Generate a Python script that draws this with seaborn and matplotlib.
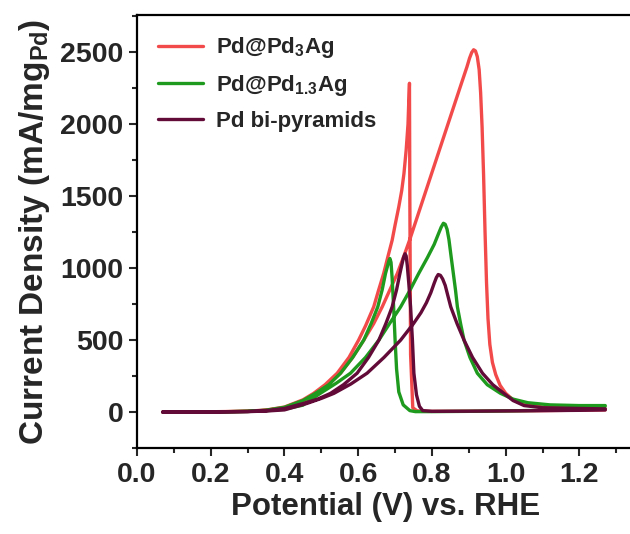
import numpy as np
import seaborn as sns
import matplotlib
matplotlib.use("Agg")
import matplotlib.pyplot as plt
from matplotlib.ticker import MultipleLocator

# CV scans: potential (V vs. RHE) and current density (mA/mg_Pd)
# forward scan goes up in potential, backward scan comes back down

# Pd@Pd3Ag
pd3ag_fwd_v = [0.07, 0.20, 0.30, 0.35, 0.40, 0.45, 0.488, 0.52, 0.552, 0.585, 0.615, 0.642,
               0.665, 0.686, 0.706, 0.724, 0.740, 0.760, 0.780, 0.800, 0.820, 0.840, 0.860,
               0.880, 0.895, 0.902, 0.908, 0.913, 0.918, 0.923, 0.928, 0.932, 0.936, 0.940,
               0.944, 0.948, 0.952, 0.957, 0.964, 0.973, 0.985, 1.00, 1.02, 1.05, 1.10,
               1.20, 1.27]
pd3ag_fwd_j = [0, 1, 5, 12, 28, 60, 130, 195, 270, 380, 500, 615,
               731, 850, 963, 1085, 1200, 1355, 1510, 1665, 1820, 1975, 2130,
               2285, 2400, 2460, 2500, 2518, 2510, 2470, 2380, 2220, 1980, 1650,
               1250, 900, 650, 470, 345, 260, 185, 130, 85, 52, 35,
               24, 22]
pd3ag_bwd_v = [1.27, 1.10, 1.00, 0.90, 0.80, 0.76, 0.748, 0.742, 0.740, 0.739, 0.737, 0.735,
               0.730, 0.724, 0.718, 0.710, 0.700, 0.692, 0.680, 0.669, 0.655, 0.642, 0.620,
               0.601, 0.575, 0.543, 0.510, 0.479, 0.45, 0.40, 0.35, 0.30, 0.20, 0.07]
pd3ag_bwd_j = [15, 10, 8, 6, 5, 8, 30, 400, 1500, 2285, 2150, 2000,
               1820, 1657, 1540, 1426, 1300, 1194, 1075, 963, 845, 731, 600,
               500, 380, 270, 190, 130, 85, 35, 14, 6, 2, 0]

# Pd@Pd1.3Ag
pd13ag_fwd_v = [0.07, 0.20, 0.30, 0.35, 0.40, 0.45, 0.497, 0.54, 0.579, 0.62, 0.656, 0.685,
                0.715, 0.740, 0.764, 0.788, 0.806, 0.817, 0.825, 0.831, 0.836, 0.841, 0.846,
                0.852, 0.858, 0.864, 0.869, 0.878, 0.887, 0.903, 0.923, 0.950, 0.986, 1.02,
                1.06, 1.12, 1.20, 1.27]
pd13ag_fwd_j = [0, 1, 4, 9, 20, 48, 130, 200, 270, 380, 500, 615,
                731, 845, 963, 1075, 1165, 1235, 1285, 1312, 1305, 1270, 1200,
                1080, 963, 845, 731, 610, 500, 380, 270, 190, 130, 90,
                65, 50, 45, 45]
pd13ag_bwd_v = [1.27, 1.20, 1.10, 1.00, 0.90, 0.80, 0.755, 0.740, 0.722, 0.710, 0.704, 0.700,
                0.696, 0.692, 0.689, 0.686, 0.683, 0.679, 0.674, 0.665, 0.653, 0.635, 0.615,
                0.585, 0.552, 0.52, 0.484, 0.45, 0.40, 0.35, 0.30, 0.20, 0.07]
pd13ag_bwd_j = [40, 20, 12, 8, 5, 3, 3, 10, 50, 140, 300, 500,
                731, 930, 1040, 1067, 1050, 1010, 963, 850, 731, 615, 500,
                380, 270, 190, 130, 80, 33, 13, 5, 1, 0]

# Pd bi-pyramids
pdbp_fwd_v = [0.07, 0.20, 0.30, 0.35, 0.40, 0.461, 0.50, 0.534, 0.58, 0.624, 0.67, 0.715,
              0.750, 0.770, 0.785, 0.797, 0.806, 0.812, 0.817, 0.823, 0.829, 0.836, 0.843,
              0.851, 0.868, 0.887, 0.910, 0.937, 0.965, 0.995, 1.02, 1.05, 1.10, 1.20, 1.27]
pdbp_fwd_j = [0, 1, 3, 7, 15, 60, 95, 130, 195, 270, 380, 500,
              615, 690, 760, 830, 895, 935, 956, 950, 925, 880, 810,
              731, 615, 500, 380, 270, 190, 130, 80, 45, 30, 25, 22]
pdbp_bwd_v = [1.27, 1.20, 1.10, 1.00, 0.90, 0.80, 0.775, 0.766, 0.758, 0.751, 0.747, 0.742,
              0.737, 0.733, 0.730, 0.727, 0.723, 0.718, 0.712, 0.704, 0.692, 0.675, 0.656,
              0.628, 0.597, 0.560, 0.525, 0.49, 0.452, 0.40, 0.35, 0.30, 0.20, 0.07]
pdbp_bwd_j = [15, 12, 10, 8, 6, 5, 10, 40, 120, 270, 500, 731,
              900, 1020, 1085, 1100, 1075, 1020, 950, 850, 731, 615, 500,
              380, 270, 190, 130, 90, 60, 25, 10, 4, 1, 0]

labels = ["Pd@Pd$_3$Ag", "Pd@Pd$_{1.3}$Ag", "Pd bi-pyramids"]
colors = ["#F24A4A", "#1E9A1E", "#620A38"]

sns.set_theme(style="ticks")
plt.rcParams["font.family"] = ["Liberation Sans", "DejaVu Sans"]
plt.rcParams["font.weight"] = "bold"
plt.rcParams["mathtext.fontset"] = "custom"
plt.rcParams["mathtext.rm"] = "Liberation Sans:bold"
plt.rcParams["mathtext.it"] = "Liberation Sans:bold"
plt.rcParams["mathtext.bf"] = "Liberation Sans:bold"
plt.rcParams["mathtext.default"] = "rm"

fig = plt.figure(figsize=(6.3, 5.34), dpi=100)
ax = fig.add_axes([0.2175, 0.161, 0.79, 0.811])

scans = [
    (pd3ag_fwd_v + pd3ag_bwd_v, pd3ag_fwd_j + pd3ag_bwd_j),
    (pd13ag_fwd_v + pd13ag_bwd_v, pd13ag_fwd_j + pd13ag_bwd_j),
    (pdbp_fwd_v + pdbp_bwd_v, pdbp_fwd_j + pdbp_bwd_j),
]
for (v, j), lab, col in zip(scans, labels, colors):
    sns.lineplot(x=np.array(v), y=np.array(j), sort=False, estimator=None,
                 color=col, lw=2.4, label=lab, ax=ax)

ax.set_xlim(0, 1.35)
ax.set_ylim(-250, 2760)
ax.xaxis.set_minor_locator(MultipleLocator(0.1))
ax.yaxis.set_major_locator(MultipleLocator(500))
ax.yaxis.set_minor_locator(MultipleLocator(250))
ax.set_xticks([0.0, 0.2, 0.4, 0.6, 0.8, 1.0, 1.2])
ax.set_xticklabels(["0.0", "0.2", "0.4", "0.6", "0.8", "1.0", "1.2"])

ax.tick_params(axis="both", which="major", direction="out", length=6, width=1.5,
               labelsize=20.5, pad=4)
ax.tick_params(axis="both", which="minor", direction="out", length=3.5, width=1.5)
for lbl in ax.get_xticklabels() + ax.get_yticklabels():
    lbl.set_fontweight("bold")
for sp in ax.spines.values():
    sp.set_linewidth(1.6)
    sp.set_color("black")

ax.set_xlabel("Potential (V) vs. RHE", fontsize=22.5, fontweight="bold", labelpad=3)
ax.set_ylabel("Current Density (mA/mg$_{Pd}$)", fontsize=24, fontweight="bold", labelpad=6)

leg = ax.legend(loc="upper left", bbox_to_anchor=(0.042, 0.953), frameon=False,
                fontsize=16, handlelength=2.05, handletextpad=0.55, labelspacing=0.57,
                borderaxespad=0, borderpad=0)
for t in leg.get_texts():
    t.set_fontweight("bold")
for h in leg.get_lines():
    h.set_linewidth(2.4)

fig.savefig("out.png", dpi=100)
